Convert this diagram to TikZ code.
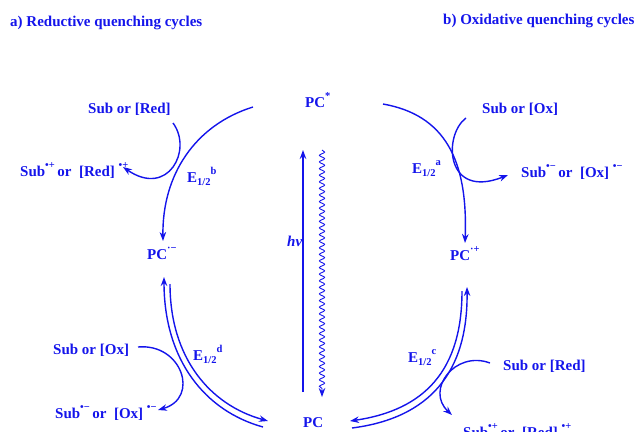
\documentclass[tikz,border=0pt]{standalone}
\usepackage{fontspec}
\setmainfont{Liberation Serif}
\usetikzlibrary{arrows.meta,decorations.pathmorphing}
\definecolor{pcblue}{RGB}{20,20,235}
\newcommand{\upidx}[1]{\raisebox{0.5em}{\fontsize{10.5}{10.5}\selectfont #1}}
\newcommand{\lowidx}[1]{\raisebox{-0.22em}{\fontsize{10.5}{10.5}\selectfont #1}}

\begin{document}
\begin{tikzpicture}[x=1pt,y=-1pt,
   lbl/.style={inner sep=0pt,anchor=base west,text=pcblue,
     font=\bfseries\fontsize{15}{18}\selectfont},
   cyc/.style={draw=pcblue,line width=1.4pt,-{Stealth[length=9pt,width=6.5pt]}}]
  \useasboundingbox (0,0) rectangle (636,431);
  % headings
  \node[lbl] (hdA) at (10,26) {a) Reductive quenching cycles};
  \node[lbl] (hdB) at (443,24) {b) Oxidative quenching cycles};
  % photocatalyst states
  \node[lbl] (pcstar) at (305,107) {PC\upidx{*}};
  \node[lbl] (pc) at (303,427) {PC};
  \node[lbl] (pcm) at (147,259) {PC\upidx{·−}};
  \node[lbl] (pcp) at (450,260) {PC\upidx{·+}};
  % substrates
  \node[lbl] (subred) at (88,113) {Sub or [Red]};
  \node[lbl] (subredrad) at (20,176) {Sub\upidx{•+}\,or\ \ [Red]\ \upidx{•+}};
  \node[lbl] (subox) at (482,113) {Sub or [Ox]};
  \node[lbl] (suboxrad) at (521,177) {Sub\upidx{•−}\,or\ \ [Ox]\ \upidx{•−}};
  \node[lbl] (suboxB) at (53,354) {Sub or [Ox]};
  \node[lbl] (suboxradB) at (55,418) {Sub\upidx{•−}\,or\ \ [Ox]\ \upidx{•−}};
  \node[lbl] (subredB) at (503,370) {Sub or [Red]};
  \node[lbl] (subredradB) at (463,437) {Sub\upidx{•+}\,or\ \ [Red]\ \upidx{•+}};
  % potentials
  \node[lbl] (Eb) at (187,182) {E\lowidx{1/2}\upidx{b}};
  \node[lbl] (Ea) at (412,173) {E\lowidx{1/2}\upidx{a}};
  \node[lbl] (Ed) at (193,360) {E\lowidx{1/2}\upidx{d}};
  \node[lbl] (Ec) at (408,362) {E\lowidx{1/2}\upidx{c}};
  \node[lbl,font=\bfseries\itshape\fontsize{15}{18}\selectfont] (hv) at (287,246) {hv};

  % excitation and decay
  \draw[cyc] ([yshift=35pt]pc.base west) -- ([yshift=277pt]pc.base west);
  \draw[cyc,line width=0.9pt,decorate,decoration={snake,amplitude=2.6pt,segment length=6.6pt,post length=8pt}]
    ([xshift=19pt,yshift=277pt]pc.base west) -- ([xshift=19pt,yshift=30pt]pc.base west);

  % reductive cycle
  \draw[cyc] ([xshift=-52pt]pcstar.base west) .. controls (195,125) and (162,175) .. ([xshift=16pt,yshift=18pt]pcm.base west);
  \draw[cyc] ([xshift=85pt,yshift=-10pt]subred.base west) .. controls (193,150) and (168,198) .. ([xshift=103pt,yshift=9pt]subredrad.base west);
  \draw[cyc] ([xshift=23pt,yshift=-25pt]pcm.base west) .. controls (170,358) and (210,405) .. ([xshift=-35pt,yshift=6pt]pc.base west);
  \draw[cyc] ([xshift=-40pt]pc.base west) .. controls (205,411) and (164,360) .. ([xshift=17pt,yshift=-18pt]pcm.base west);
  \draw[cyc] ([xshift=85pt,yshift=7pt]suboxB.base west) .. controls (182,343) and (200,398) .. ([xshift=103pt,yshift=8pt]suboxradB.base west);

  % oxidative cycle
  \draw[cyc] ([xshift=78pt,yshift=3pt]pcstar.base west) .. controls (445,115) and (468,160) .. ([xshift=15pt,yshift=17pt]pcp.base west);
  \draw[cyc] ([xshift=-16pt,yshift=-5pt]subox.base west) .. controls (443,135) and (445,200) .. ([xshift=-13pt,yshift=2pt]suboxrad.base west);
  \draw[cyc] ([xshift=12pt,yshift=-31pt]pcp.base west) .. controls (462,370) and (425,410) .. ([xshift=47pt,yshift=6pt]pc.base west);
  \draw[cyc] ([xshift=49pt,yshift=-1pt]pc.base west) .. controls (430,418) and (468,372) .. ([xshift=17pt,yshift=-27pt]pcp.base west);
  \draw[cyc] ([xshift=-13pt,yshift=7pt]subredB.base west) .. controls (455,350) and (425,390) .. ([xshift=-11pt,yshift=22pt]subredradB.base west);
\end{tikzpicture}
\end{document}
